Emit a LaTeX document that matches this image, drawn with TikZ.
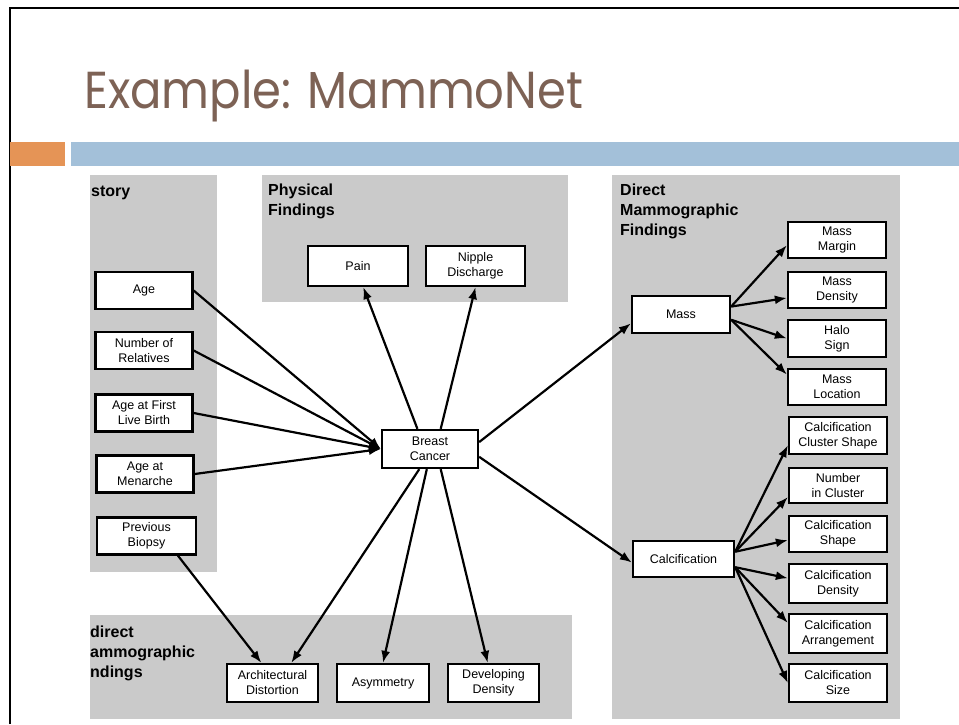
\documentclass[tikz,border=0pt]{standalone}
\usepackage{fontspec}
\setmainfont{Liberation Sans}
\newfontfamily\titlefont{Poppins}
\usetikzlibrary{arrows.meta}
\definecolor{titlebrown}{RGB}{125,98,85}
\definecolor{barorange}{RGB}{229,148,86}
\definecolor{barblue}{RGB}{163,192,217}
\definecolor{panelgray}{RGB}{202,202,202}
\begin{document}
\begin{tikzpicture}[x=1pt,y=-1pt,
  box/.style={draw,line width=2.3pt,fill=white,inner sep=0pt,minimum width=97pt,minimum height=37pt,align=center,font=\fontsize{12.5}{15}\selectfont},
  grouplabel/.style={anchor=north west,inner sep=0pt,align=left,font=\fontsize{16}{20}\selectfont\bfseries},
  link/.style={line width=2.2pt,-{Latex[length=12pt,width=9pt]}}]
\useasboundingbox (0,0) rectangle (959,724);
\fill[white] (0,0) rectangle (959,724);
\draw[line width=2pt] (10,724) -- (10,8) -- (959,8);
\fill[barorange] (10,142) rectangle (65,166);
\fill[barblue] (71,142) rectangle (959,166);
\node[anchor=base west,inner sep=0pt,text=titlebrown,font=\titlefont\fontsize{52}{52}\selectfont] (title) at (84,108) {\scalebox{0.894}[1]{Example: MammoNet}};
% groups
\fill[panelgray] (90,175) rectangle (217,572);
\fill[panelgray] (262,175) rectangle (568,302);
\fill[panelgray] (612,175) rectangle (900,719);
\fill[panelgray] (90,615) rectangle (572,719);
\node[grouplabel] (hist) at (91,186) {story};
\node[grouplabel] (phys) at (268,184) {Physical\\Findings};
\node[grouplabel] (direct) at (620,184) {Direct\\Mammographic\\Findings};
\node[grouplabel] (indirect) at (90,626) {direct\\ammographic\\ndings};
% nodes
\node[box] (Age) at (144,290.5) {Age};
\node[box] (NRel) at (144,350.5) {Number of\\Relatives};
\node[box] (AFB) at (144,413) {Age at First\\Live Birth};
\node[box] (Men) at (145,474) {Age at\\Menarche};
\node[box,minimum width=99pt] (Bio) at (146.5,536) {Previous\\Biopsy};
\node[box,minimum width=100pt,minimum height=40pt] (Pain) at (358,266) {Pain};
\node[box,minimum width=99pt,minimum height=40pt] (Nip) at (475.5,266) {Nipple\\Discharge};
\node[box,minimum width=96pt,minimum height=38pt] (BC) at (430,449) {Breast\\Cancer};
\node[box,minimum width=98pt] (Mass) at (681,314.5) {Mass};
\node[box,minimum width=101pt,minimum height=36pt] (Calc) at (683.5,559) {Calcification};
\node[box,minimum width=98pt,minimum height=36pt] (MMar) at (837,240) {Mass\\Margin};
\node[box,minimum width=98pt,minimum height=36pt] (MDen) at (837,290) {Mass\\Density};
\node[box,minimum width=98pt] (Halo) at (837,338.5) {Halo\\Sign};
\node[box,minimum width=98pt,minimum height=36pt] (MLoc) at (837,387) {Mass\\Location};
\node[box,minimum width=98pt] (CCS) at (838,435.5) {Calcification\\Cluster Shape};
\node[box,minimum width=98pt,minimum height=35pt] (NIC) at (838,485.5) {Number\\in Cluster};
\node[box,minimum width=98pt,minimum height=36pt] (CShape) at (838,534) {Calcification\\Shape};
\node[box,minimum width=98pt,minimum height=39pt] (CDen) at (838,583.5) {Calcification\\Density};
\node[box,minimum width=98pt,minimum height=39pt] (CArr) at (838,633.5) {Calcification\\Arrangement};
\node[box,minimum width=98pt,minimum height=38pt] (CSize) at (838,683) {Calcification\\Size};
\node[box,minimum width=91pt,minimum height=38pt] (AD) at (272.5,683) {Architectural\\Distortion};
\node[box,minimum width=92pt,minimum height=38pt] (Asym) at (383,683) {Asymmetry};
\node[box,minimum width=91pt,minimum height=38pt] (DD) at (493.5,683) {Developing\\Density};
% links
\foreach \s in {Age,NRel,AFB,Men}
  \draw[link] (\s.east) -- (BC.west);
\draw[link] (Bio.-32) -- (AD.119);
\draw[link] (BC.122) -- (Pain.-76);
\draw[link] (BC.62) -- (Nip.south);
\draw[link] (BC.8) -- (Mass.190);
\draw[link] (BC.-9) -- (Calc.184);
\draw[link] (BC.242) -- (AD.47);
\draw[link] (BC.261) -- (Asym.north);
\draw[link] (BC.298) -- (DD.106);
\foreach \s/\t in {9/MMar.186,9/MDen.189,-6/Halo.west,-6/MLoc.166}
  \draw[link] (Mass.\s) -- (\t);
\foreach \s/\t in {8/CCS.191,8/NIC.193,8/CShape.187,-9/CDen.174,-9/CArr.168,-9/CSize.west}
  \draw[link] (Calc.\s) -- (\t);
\end{tikzpicture}
\end{document}
